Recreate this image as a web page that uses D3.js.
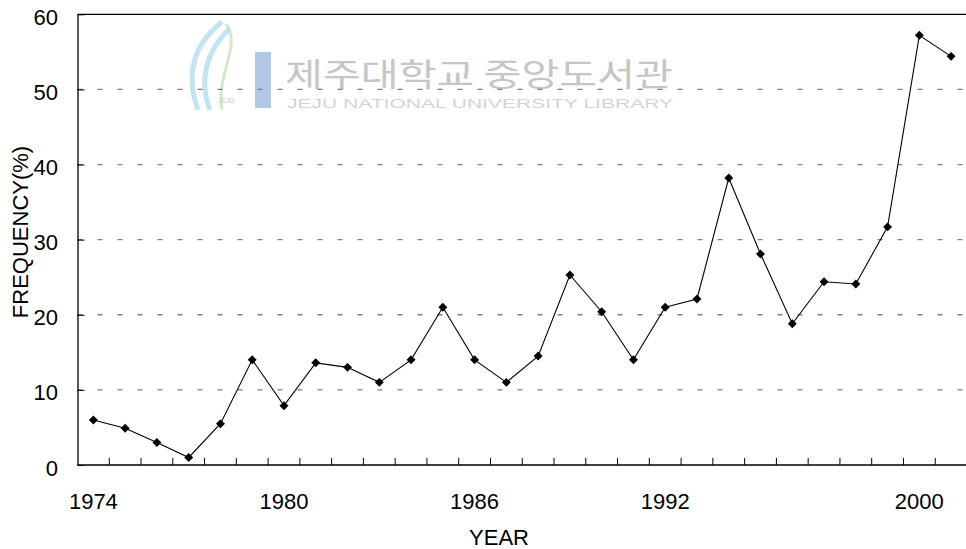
<!DOCTYPE html>
<html>
<head>
<meta charset="utf-8">
<script src="https://cdn.jsdelivr.net/npm/d3@7"></script>
<style>
  body { margin: 0; background: #fff; }
  svg { display: block; font-family: Arial, "Liberation Sans", sans-serif; }
</style>
</head>
<body>
<div id="chart"></div>
<script>
// data
const years = [1974, 1975, 1976, 1977, 1978, 1979, 1980, 1981, 1982, 1983, 1984, 1985, 1986, 1987,
               1988, 1989, 1990, 1991, 1992, 1993, 1994, 1995, 1996, 1997, 1998, 1999, 2000, 2001];
const frequency = [6.0, 4.9, 3.0, 1.0, 5.5, 14.0, 7.9, 13.6, 13.0, 11.0, 14.0, 21.0, 14.0, 11.0,
                   14.5, 25.3, 20.4, 14.0, 21.0, 22.1, 38.2, 28.1, 18.8, 24.4, 24.1, 31.7, 57.2, 54.4];
const yearLabels = [1974, 1980, 1986, 1992, 2000];
const yTicks = [0, 10, 20, 30, 40, 50, 60];

let w = 966;
let h = 549;
let plotLeft = 77.5, plotRight = 967, plotTop = 14.3, plotBottom = 465;

let svg = d3.select("#chart")
    .append("svg")
    .attr("width", w)
    .attr("height", h);

// watermark (library stamp)
let wm = svg.append("g").attr("class", "watermark");
wm.append("path")
    .attr("d", "M222,22 C196,42 184,72 198,110 M230,28 C207,50 198,80 210,110")
    .attr("fill", "none").attr("stroke", "#b3dcef").attr("stroke-width", 5).attr("opacity", 0.8);
wm.append("path")
    .attr("d", "M226,24 C242,46 216,72 222,110")
    .attr("fill", "none").attr("stroke", "#c8e4c0").attr("stroke-width", 3).attr("opacity", 0.8);
wm.append("rect")
    .attr("x", 255).attr("y", 52).attr("width", 16).attr("height", 56)
    .attr("fill", "#b2c6e6");
wm.append("text")
    .attr("x", 226).attr("y", 103).attr("text-anchor", "middle")
    .attr("font-size", 7).attr("fill", "#c8c8c8").text("JEJU");
wm.append("text")
    .attr("x", 285).attr("y", 86)
    .attr("textLength", 388).attr("lengthAdjust", "spacingAndGlyphs")
    .style("font-family", "'Noto Sans CJK KR', sans-serif")
    .attr("font-size", 32).attr("fill", "#c6c6c6")
    .text("제주대학교 중앙도서관");
wm.append("text")
    .attr("x", 287).attr("y", 108)
    .attr("textLength", 386).attr("lengthAdjust", "spacingAndGlyphs")
    .attr("font-size", 13.5).attr("fill", "#d4d4d4")
    .text("JEJU NATIONAL UNIVERSITY  LIBRARY");

// scales
let xScale = d3.scaleBand()
    .domain(years)
    .range([plotLeft, plotRight]);

let yScale = d3.scaleLinear()
    .domain([0, 60])
    .range([plotBottom, plotTop]);

// gridlines
svg.append("g")
    .selectAll("line")
    .data(yTicks.filter(d => d > 0 && d < 60))
    .enter()
    .append("line")
    .attr("x1", plotLeft)
    .attr("x2", plotRight)
    .attr("y1", d => yScale(d))
    .attr("y2", d => yScale(d))
    .attr("stroke", "#808080")
    .attr("stroke-width", 1.3)
    .attr("stroke-dasharray", "5,15");

// top border
svg.append("line")
    .attr("x1", plotLeft).attr("x2", plotRight)
    .attr("y1", plotTop).attr("y2", plotTop)
    .attr("stroke", "#000").attr("stroke-width", 1.3);

// y axis
let yAxis = d3.axisLeft(yScale)
    .tickValues(yTicks)
    .tickSizeInner(-7)
    .tickSizeOuter(0)
    .tickPadding(0);

let gy = svg.append("g")
    .attr("transform", "translate(" + plotLeft + ",0)")
    .call(yAxis);
gy.select(".domain").attr("stroke", "#000").attr("stroke-width", 1.3);
gy.selectAll(".tick line").attr("stroke", "#000");
gy.selectAll(".tick text")
    .attr("x", -19.5)
    .attr("dy", null)
    .attr("y", 10)
    .attr("font-size", 22)
    .attr("fill", "#000");
gy.attr("font-family", null).attr("font-size", null);

// x axis: ticks on category boundaries, labels on a few years
let boundaries = years.slice(1);
let gx = svg.append("g");
gx.append("line")
    .attr("x1", plotLeft).attr("x2", plotRight)
    .attr("y1", plotBottom).attr("y2", plotBottom)
    .attr("stroke", "#000").attr("stroke-width", 1.3);
gx.selectAll(".xtick")
    .data(boundaries)
    .enter()
    .append("line")
    .attr("class", "xtick")
    .attr("x1", d => xScale(d))
    .attr("x2", d => xScale(d))
    .attr("y1", plotBottom)
    .attr("y2", plotBottom - 7)
    .attr("stroke", "#000");
gx.selectAll(".xlabel")
    .data(yearLabels)
    .enter()
    .append("text")
    .attr("class", "xlabel")
    .attr("x", d => xScale(d) + xScale.bandwidth() / 2)
    .attr("y", 509)
    .attr("text-anchor", "middle")
    .attr("font-size", 22)
    .text(d => d);

// line
let line = d3.line()
    .x((d, i) => xScale(years[i]) + xScale.bandwidth() / 2)
    .y(d => yScale(d));

svg.append("path")
    .datum(frequency)
    .attr("d", line)
    .attr("fill", "none")
    .attr("stroke", "#000")
    .attr("stroke-width", 1.1);

// diamond markers
let diamond = d3.symbol().type(d3.symbolSquare).size(40);
svg.selectAll(".dot")
    .data(frequency)
    .enter()
    .append("path")
    .attr("class", "dot")
    .attr("d", diamond)
    .attr("transform", (d, i) => "translate(" + (xScale(years[i]) + xScale.bandwidth() / 2) + "," + yScale(d) + ") rotate(45)")
    .attr("fill", "#000");

// axis titles
svg.append("text")
    .attr("x", 499)
    .attr("y", 545)
    .attr("text-anchor", "middle")
    .attr("font-size", 22)
    .text("YEAR");

svg.append("text")
    .attr("transform", "translate(28,232) rotate(-90)")
    .attr("text-anchor", "middle")
    .attr("font-size", 22)
    .text("FREQUENCY(%)");
</script>
</body>
</html>
